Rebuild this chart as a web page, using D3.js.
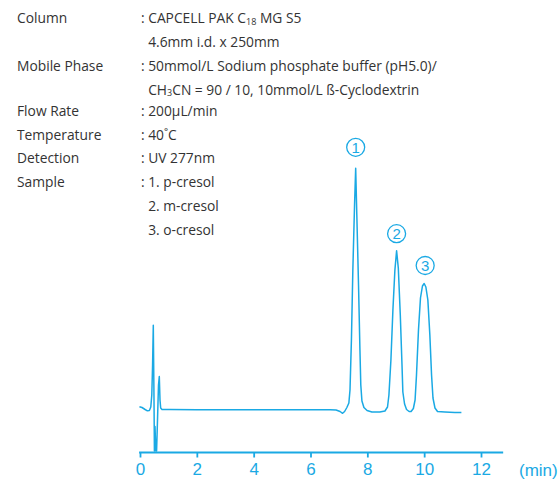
<!DOCTYPE html>
<html>
<head>
<meta charset="utf-8">
<script src="https://cdn.jsdelivr.net/npm/d3@7"></script>
<style>
html,body{margin:0;padding:0;background:#fff;}
svg{display:block;}
</style>
</head>
<body>
<svg id="chart" width="560" height="479"></svg>
<script>
// ---- Data ----
const conditionLabels = ["Column", "", "Mobile Phase", "", "Flow Rate", "Temperature", "Detection", "Sample", "", ""];
const conditionValues = [
  ": CAPCELL PAK C_{18} MG S5",
  "  4.6mm i.d. x 250mm",
  ": 50mmol/L Sodium phosphate buffer (pH5.0)/",
  "  CH_{3}CN = 90 / 10, 10mmol/L ß-Cyclodextrin",
  ": 200µL/min",
  ": 40˚C",
  ": UV 277nm",
  ": 1. p-cresol",
  "  2. m-cresol",
  "  3. o-cresol"
];
const tickValues = [0, 2, 4, 6, 8, 10, 12];
const axisUnit = "(min)";
const peakNames = ["1", "2", "3"];
const peakTimes = [7.59, 9.03, 10.0];
const peakHeights = [241.7, 159.3, 126.5];

// chromatogram trace: time (min) and detector signal (arbitrary units)
const times = [
  -0.02, 0.07, 0.18, 0.26, 0.33, 0.38, 0.415, 0.443, 0.468, 0.493, 0.507, 0.528, 0.556, 0.584, 0.616, 0.651, 0.679, 0.704, 0.728, 0.774,
  1.06, 2.0, 3.0, 4.0, 5.0, 6.0, 6.69, 6.9, 7.04, 7.13, 7.2, 7.28, 7.35, 7.39, 7.44, 7.49, 7.55, 7.59,
  7.63, 7.69, 7.74, 7.77, 7.81, 7.88, 7.99, 8.16, 8.44, 8.62, 8.71, 8.76, 8.83, 8.9, 8.97, 9.03,
  9.09, 9.16, 9.22, 9.25, 9.31, 9.38, 9.47, 9.54, 9.62, 9.68, 9.73, 9.8, 9.87, 9.94, 10.0,
  10.06, 10.13, 10.2, 10.26, 10.31, 10.38, 10.47, 10.73, 11.08, 11.31
];
const signal = [
  3.3, 2.5, 0.5, -0.8, -0.5, 3, 15, 45, 84.7, 10, -41, -16.5, -41, -41, -10, 25, 33.5, 10, 2, 0.5,
  0.4, 0.3, 0.3, 0.3, 0.2, 0.2, 0.2, 0, -1.5, -3.3, -1.5, 2.5, 7, 20, 70, 140, 205, 241.7,
  195, 125, 60, 25, 9, 2.5, -0.5, -2, -2, -1, 3, 15, 50, 100, 140, 159.3,
  142, 95, 45, 18, 6, 0.5, -1.5, -1.5, 1.5, 10, 35, 80, 112, 124, 126.5,
  123, 110, 75, 35, 12, 2, -1.5, -2, -2.5, -2.5
];

// ---- Drawing ----
const svg = d3.select("#chart");
const cyan = "#1aa9e4";
const textColor = "#333333";

const x = d3.scaleLinear().domain([0, 12]).range([140, 481]);
const y = d3.scaleLinear().domain([0, 241.7]).range([410, 168.3]);
const axisY = 452.5;
const axisEnd = 12.78;

// Conditions text
function addRich(sel, str) {
  const parts = str.split(/(_\{[^}]*\})/);
  let sub = false;
  parts.forEach(p => {
    if (!p) return;
    const m = p.match(/^_\{([^}]*)\}$/);
    if (m) {
      sel.append("tspan").attr("font-size", 9).attr("dy", 1.5).text(m[1]);
      sub = true;
    } else {
      const t = sel.append("tspan").text(p);
      if (sub) { t.attr("dy", -1.5); sub = false; }
    }
  });
}

const rowY = [23, 47, 71, 94.5, 116, 139.5, 163, 187, 210.5, 234.5];
const condG = svg.append("g")
  .attr("font-family", "'Open Sans', 'Noto Sans', sans-serif")
  .attr("font-size", 13.8)
  .attr("fill", textColor);

conditionLabels.forEach((lab, i) => {
  if (lab) condG.append("text").attr("x", 17).attr("y", rowY[i]).text(lab);
});
conditionValues.forEach((val, i) => {
  const t = condG.append("text").attr("x", 141).attr("y", rowY[i]).attr("xml:space", "preserve")
    .style("white-space", "pre");
  addRich(t, val);
});

// Axis
const axis = d3.axisBottom(x).tickValues(tickValues).tickSize(5).tickPadding(5)
  .tickFormat(d3.format("d"));
const ag = svg.append("g").attr("transform", `translate(0,${axisY})`).call(axis);
ag.select(".domain").remove();
ag.selectAll(".tick line").attr("stroke", cyan).attr("stroke-width", 1.8);
ag.selectAll(".tick text")
  .attr("fill", cyan)
  .attr("font-family", "'Liberation Sans', Arial, sans-serif")
  .attr("font-size", 17);
ag.append("line")
  .attr("x1", x(0) - 0.9).attr("x2", x(axisEnd))
  .attr("y1", 0).attr("y2", 0)
  .attr("stroke", cyan).attr("stroke-width", 1.8);

svg.append("text")
  .attr("x", 519).attr("y", 475.5)
  .attr("fill", cyan)
  .attr("font-family", "'Liberation Sans', Arial, sans-serif")
  .attr("font-size", 17)
  .text(axisUnit);

// Trace
const pts = times.map((t, i) => [t, signal[i]]);
const line = d3.line()
  .x(d => x(d[0]))
  .y(d => y(d[1]))
  .curve(d3.curveLinear);
svg.append("path")
  .datum(pts)
  .attr("d", line)
  .attr("fill", "none")
  .attr("stroke", cyan)
  .attr("stroke-width", 1.5)
  .attr("stroke-linejoin", "round");

// Peak labels (circled numbers)
const offsets = [21, 17, 18];
peakNames.forEach((n, i) => {
  const cx = x(peakTimes[i]) + (i === 2 ? 1 : 0);
  const cy = y(peakHeights[i]) - offsets[i];
  svg.append("circle").attr("cx", cx).attr("cy", cy).attr("r", 9)
    .attr("fill", "none").attr("stroke", cyan).attr("stroke-width", 1.3);
  svg.append("text").attr("x", cx).attr("y", cy + 5.5)
    .attr("text-anchor", "middle")
    .attr("fill", cyan)
    .attr("font-family", "'Liberation Sans', Arial, sans-serif")
    .attr("font-size", 15)
    .text(n);
});
</script>
</body>
</html>
